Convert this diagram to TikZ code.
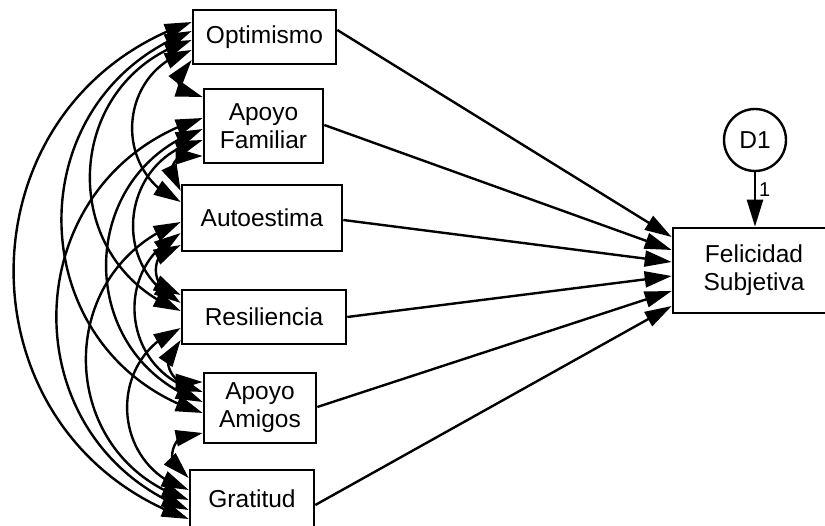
\documentclass[tikz,border=0pt]{standalone}
\usepackage{fontspec}
\setmainfont{Liberation Sans}
\usetikzlibrary{arrows.meta,bending}
\begin{document}
\begin{tikzpicture}[x=1pt,y=-1pt,
  >={Triangle[length=27pt,width=16pt]},
  var/.style={draw, line width=2.6pt, inner sep=0pt, align=center,
    font=\fontsize{24.5}{28}\selectfont},
  err/.style={draw, circle, line width=2.4pt, inner sep=0pt, minimum size=62pt,
    font=\fontsize{24.5}{28}\selectfont},
  cov/.style={<->, line width=2.4pt},
  farcov/.style={cov, bend right=71, looseness=1.28},
  adjcov/.style={cov, bend right=90, looseness=1.7},
  reg/.style={->, line width=2.4pt}]
\useasboundingbox (0,0) rectangle (825,526);
\fill[white] (0,0) rectangle (825,526);

% observed variables
\node[var, minimum width=143pt, minimum height=54pt] (opt) at (264.5,37) {Optimismo};
\node[var, minimum width=119pt, minimum height=74pt] (fam) at (263.5,126) {Apoyo\\Familiar};
\node[var, minimum width=160pt, minimum height=66pt] (aut) at (262,218) {Autoestima};
\node[var, minimum width=164pt, minimum height=54pt] (res) at (264,317) {Resiliencia};
\node[var, minimum width=112pt, minimum height=70pt] (ami) at (260,408) {Apoyo\\Amigos};
\node[var, minimum width=124pt, minimum height=58pt] (gra) at (252,499) {Gratitud};
\node[var, minimum width=162pt, minimum height=85pt] (fel) at (754,270.5) {Felicidad\\Subjetiva};
\node[err] (d1) at (755,140) {D1};

% attachment points on the left sides (covariances)
\coordinate (oG) at (opt.west |- 0,22);
\coordinate (oA) at (opt.west |- 0,31);
\coordinate (oR) at (opt.west |- 0,40);
\coordinate (oU) at (opt.west |- 0,50);
\coordinate (oF) at (opt.west |- 0,60);

\coordinate (fO) at (fam.west |- 0,97);
\coordinate (fG) at (fam.west |- 0,118);
\coordinate (fA) at (fam.west |- 0,129);
\coordinate (fR) at (fam.west |- 0,140);
\coordinate (fU) at (fam.west |- 0,156);

\coordinate (uF) at (aut.west |- 0,191);
\coordinate (uO) at (aut.west |- 0,202);
\coordinate (uG) at (aut.west |- 0,222);
\coordinate (uA) at (aut.west |- 0,233);
\coordinate (uR) at (aut.west |- 0,245);

\coordinate (rU) at (res.west |- 0,295);
\coordinate (rF) at (res.west |- 0,303);
\coordinate (rO) at (res.west |- 0,311);
\coordinate (rG) at (res.west |- 0,328);
\coordinate (rA) at (res.west |- 0,340);

\coordinate (aR) at (ami.west |- 0,382);
\coordinate (aU) at (ami.west |- 0,392);
\coordinate (aF) at (ami.west |- 0,402);
\coordinate (aO) at (ami.west |- 0,413);
\coordinate (aG) at (ami.west |- 0,433);

\coordinate (gA) at (gra.west |- 0,478);
\coordinate (gR) at (gra.west |- 0,490);
\coordinate (gU) at (gra.west |- 0,500);
\coordinate (gF) at (gra.west |- 0,510);
\coordinate (gO) at (gra.west |- 0,519);

% covariances between neighbours
\draw[adjcov] (oF) to (fO);
\draw[adjcov] (fU) to (uF);
\draw[adjcov] (uR) to (rU);
\draw[adjcov] (rA) to (aR);
\draw[adjcov] (aG) to (gA);

% covariances between distant variables
\draw[farcov] (oU) to (uO);
\draw[farcov] (oR) to (rO);
\draw[farcov] (oA) to (aO);
\draw[farcov] (oG) to (gO);
\draw[farcov] (fR) to (rF);
\draw[farcov] (fA) to (aF);
\draw[farcov] (fG) to (gF);
\draw[farcov] (uA) to (aU);
\draw[farcov] (uG) to (gU);
\draw[farcov] (rG) to (gR);

% regression paths
\draw[reg] (opt.east |- 0,30)  -- (fel.west |- 0,237);
\draw[reg] (fam.east |- 0,125) -- (fel.west |- 0,250);
\draw[reg] (aut.east |- 0,220) -- (fel.west |- 0,262);
\draw[reg] (res.east |- 0,317) -- (fel.west |- 0,276);
\draw[reg] (ami.east |- 0,407) -- (fel.west |- 0,291);
\draw[reg] (gra.east |- 0,505) -- (fel.west |- 0,306);

% disturbance
\draw[reg] (d1.south) -- node[right, pos=0.32, inner sep=3pt,
  font=\fontsize{20}{22}\selectfont] {1} (d1.south |- fel.north);
\end{tikzpicture}
\end{document}
